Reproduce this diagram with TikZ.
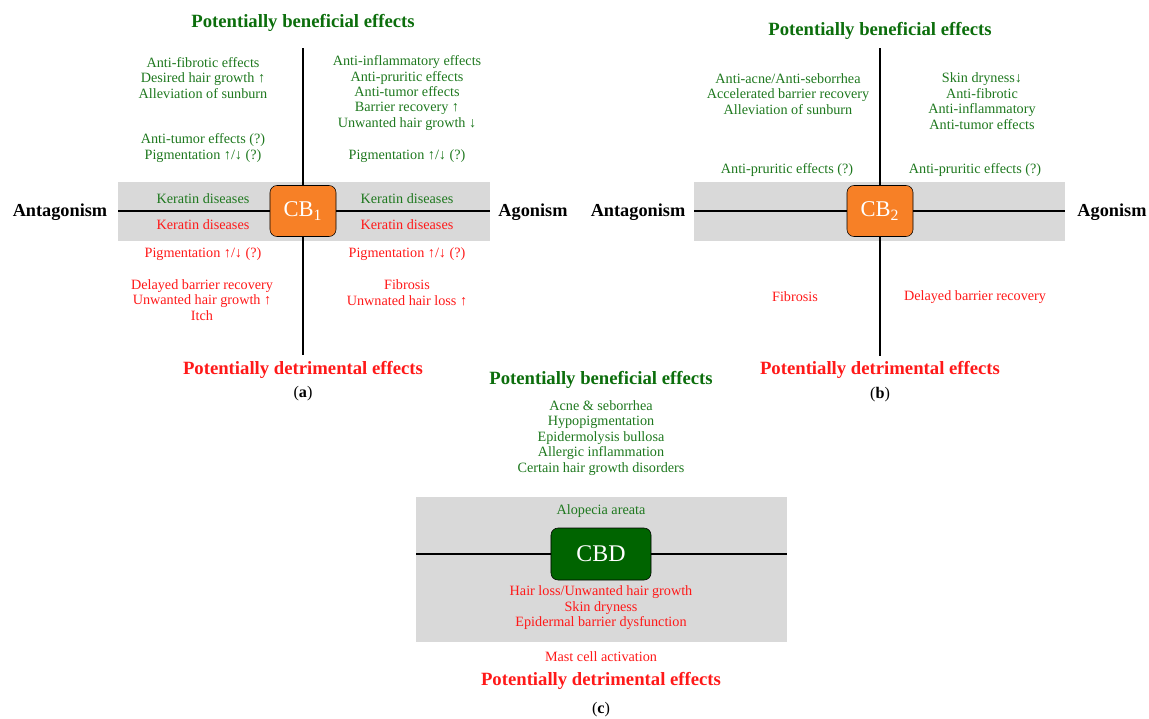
\documentclass[tikz,border=0pt]{standalone}
\usepackage{fontspec}
\setmainfont{Liberation Serif}
\usetikzlibrary{positioning}

\definecolor{fxgreen}{RGB}{30,120,30}
\definecolor{ttlgreen}{RGB}{12,110,12}
\definecolor{fxred}{RGB}{255,25,25}
\definecolor{bandgray}{RGB}{217,217,217}
\definecolor{cborange}{RGB}{247,128,38}
\definecolor{cbdgreen}{RGB}{0,100,0}

\tikzset{
	good/.style={text=fxgreen, font=\fontsize{10.1}{11}\selectfont, align=center, inner sep=0pt},
	bad/.style={good, text=fxred},
	headgood/.style={text=ttlgreen, font=\fontsize{13.3}{15}\selectfont\bfseries, inner sep=0pt},
	headbad/.style={headgood, text=fxred},
	side/.style={font=\fontsize{13}{15}\selectfont\bfseries, inner sep=0pt},
	caption/.style={font=\fontsize{11.5}{13}\selectfont, inner sep=0pt},
	receptor/.style={draw=black, thin, fill=cborange, rounded corners=5pt, text=white,
		minimum width=1.65cm, minimum height=1.275cm, font=\fontsize{16}{18}\selectfont},
	axis/.style={line width=1.3pt},
}

\begin{document}
\begin{tikzpicture}[x=0.025cm, y=-0.025cm]
	\useasboundingbox (0,0) rectangle (1149,718);

	% Grey bands
	\fill [bandgray] (118,182) rectangle (490,241);
	\fill [bandgray] (694,182) rectangle (1065,241);
	\fill [bandgray] (416,497) rectangle (787,642);

	% Nodes (a) CB1
	\node [receptor] 	(cb1) 	at (303,211) 	{CB\textsubscript{1}};
	\node [headgood] 	(aben) 	at (303,23) 	{Potentially beneficial effects};
	\node [good] 		(aul) 	at (203,78) 	{Anti-fibrotic effects\\Desired hair growth ↑\\Alleviation of sunburn};
	\node [good] 		(aulq) 	at (203,148) 	{Anti-tumor effects (?)\\Pigmentation ↑/↓ (?)};
	\node [good] 		(aur) 	at (407,93) 	{Anti-inflammatory effects\\Anti-pruritic effects\\Anti-tumor effects\\Barrier recovery ↑\\Unwanted hair growth ↓};
	\node [good] 		(aurq) 	at (407,156) 	{Pigmentation ↑/↓ (?)};
	\node [good] 		(alk) 	at (203,199) 	{Keratin diseases};
	\node [good] 		(ark) 	at (407,199) 	{Keratin diseases};
	\node [bad] 		(alkd) 	at (203,225) 	{Keratin diseases};
	\node [bad] 		(arkd) 	at (407,225) 	{Keratin diseases};
	\node [bad] 		(alp) 	at (203,254) 	{Pigmentation ↑/↓ (?)};
	\node [bad] 		(arp) 	at (407,254) 	{Pigmentation ↑/↓ (?)};
	\node [bad] 		(all) 	at (202,300) 	{Delayed barrier recovery\\Unwanted hair growth ↑\\Itch};
	\node [bad] 		(arl) 	at (407,293) 	{Fibrosis\\Unwnated hair loss ↑};
	\node [headbad] 	(adet) 	at (303,370) 	{Potentially detrimental effects};
	\node [caption] 	(acap) 	at (303,394) 	{(\textbf{a})};
	\node [side] 		(aant) 	at (60,212) 	{Antagonism};
	\node [side] 		(aago) 	at (533,212) 	{Agonism};

	% Nodes (b) CB2
	\node [receptor] 	(cb2) 	at (880,211) 	{CB\textsubscript{2}};
	\node [headgood] 	(bben) 	at (880,31) 	{Potentially beneficial effects};
	\node [good] 		(bul) 	at (788,94) 	{Anti-acne/Anti-seborrhea\\Accelerated barrier recovery\\Alleviation of sunburn};
	\node [good] 		(bur) 	at (982,101) 	{Skin dryness↓\\Anti-fibrotic\\Anti-inflammatory\\Anti-tumor effects};
	\node [good] 		(bulq) 	at (787,170) 	{Anti-pruritic effects (?)};
	\node [good] 		(burq) 	at (975,170) 	{Anti-pruritic effects (?)};
	\node [bad] 		(bfib) 	at (795,297) 	{Fibrosis};
	\node [bad] 		(bdel) 	at (975,297) 	{Delayed barrier recovery};
	\node [headbad] 	(bdet) 	at (880,370) 	{Potentially detrimental effects};
	\node [caption] 	(bcap) 	at (880,395) 	{(\textbf{b})};
	\node [side] 		(bant) 	at (638,212) 	{Antagonism};
	\node [side] 		(bago) 	at (1112,212) 	{Agonism};

	% Nodes (c) CBD
	\node [receptor, fill=cbdgreen, minimum width=2.5cm, minimum height=1.3cm,
		font=\fontsize{17}{19}\selectfont] 	(cbd) 	at (601,554) 	{CBD};
	\node [headgood] 	(cben) 	at (601,380) 	{Potentially beneficial effects};
	\node [good] 		(cup) 	at (601,438) 	{Acne \& seborrhea\\Hypopigmentation\\Epidermolysis bullosa\\Allergic inflammation\\Certain hair growth disorders};
	\node [good] 		(calo) 	at (601,511) 	{Alopecia areata};
	\node [bad] 		(clow) 	at (601,608) 	{Hair loss/Unwanted hair growth\\Skin dryness\\Epidermal barrier dysfunction};
	\node [bad] 		(cmast) at (601,657) 	{Mast cell activation};
	\node [headbad] 	(cdet) 	at (601,681) 	{Potentially detrimental effects};
	\node [caption] 	(ccap) 	at (601,710) 	{(\textbf{c})};

	% Axis ends
	\coordinate (aN) at (303,48);
	\coordinate (aS) at (303,355);
	\coordinate (aW) at (118,211);
	\coordinate (aE) at (490,211);
	\coordinate (bN) at (880,48);
	\coordinate (bS) at (880,356);
	\coordinate (bW) at (694,211);
	\coordinate (bE) at (1065,211);
	\coordinate (cW) at (416,554);
	\coordinate (cE) at (787,554);

	% Paths
	\path [axis, draw]
	(aN) -- (cb1) (cb1) -- (aS)
	(aW) -- (cb1) (cb1) -- (aE)
	(bN) -- (cb2) (cb2) -- (bS)
	(bW) -- (cb2) (cb2) -- (bE)
	(cW) -- (cbd) (cbd) -- (cE);

\end{tikzpicture}
\end{document}
